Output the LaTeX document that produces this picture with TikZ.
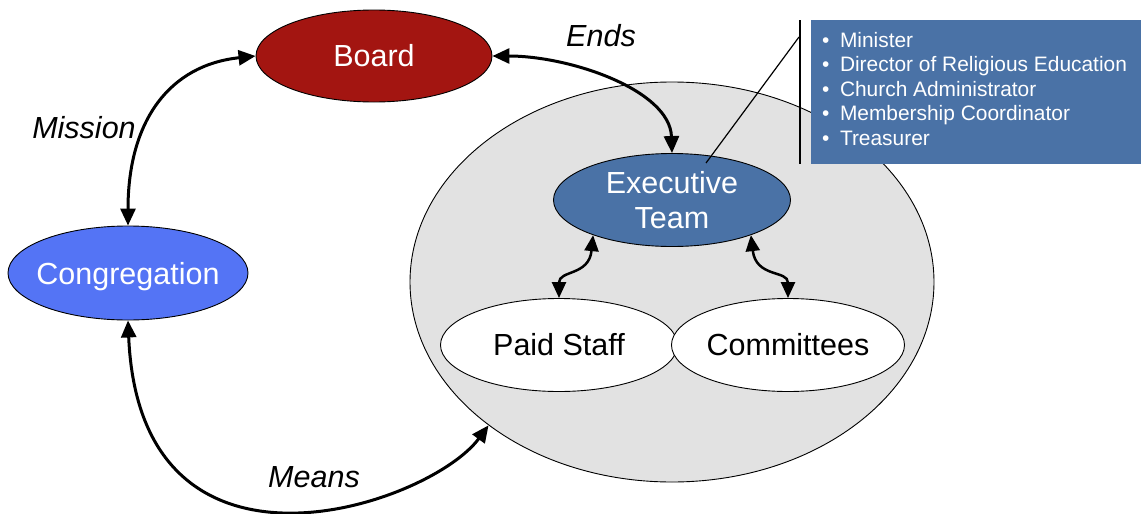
\documentclass[tikz,border=0pt]{standalone}
\usepackage{fontspec}
\setmainfont{Liberation Sans}
\usetikzlibrary{shapes.geometric,arrows.meta}
\definecolor{boardred}{RGB}{163,21,17}
\definecolor{congblue}{RGB}{84,116,245}
\definecolor{steel}{RGB}{74,114,166}
\definecolor{opsgray}{RGB}{226,226,226}
\begin{document}
\begin{tikzpicture}[x=1pt,y=-1pt,
  blob/.style={ellipse, draw=black, line width=0.9pt, inner sep=0pt,
    font=\fontsize{30.5}{35}\selectfont, align=center},
  lbl/.style={font=\itshape\fontsize{30.5}{36}\selectfont, inner sep=0pt},
  link/.style={line width=3pt, {Triangle[length=17pt,width=15pt]}-{Triangle[length=17pt,width=15pt]}},
  sublink/.style={line width=2.5pt, {Triangle[length=16pt,width=14pt]}-{Triangle[length=16pt,width=14pt]}},
  callline/.style={line width=1.2pt, draw=black}]
\useasboundingbox (0,0) rectangle (1141,514);

% operational area holding the staff and the committees
\node[blob, fill=opsgray, minimum width=524pt, minimum height=400pt] (ops) at (672,282) {};

% governance nodes
\node[blob, fill=boardred, text=white, minimum width=236pt, minimum height=92pt] (board) at (374,56) {Board};
\node[blob, fill=congblue, text=white, inner xsep=-14pt, text depth=0pt,
      minimum width=240pt, minimum height=94pt] (cong) at (128,273) {Congregation};
\node[blob, fill=steel, text=white, minimum width=237pt, minimum height=93pt] (exec) at (672,200) {Executive\\Team};
\node[blob, fill=white, minimum width=237pt, minimum height=93pt] (paid) at (559,345) {Paid Staff};
\node[blob, fill=white, minimum width=233pt, minimum height=93pt] (comm) at (788,345) {Committees};

% relationships
\draw[link] (cong.north) .. controls (128,120) and (170,65) .. (board.west);
\draw[link] (board.east) .. controls (570,56) and (670,90) .. (exec.north);
\draw[link] (cong.south) .. controls (140,605) and (430,505) .. (ops.218);
\draw[sublink] (paid.north) .. controls (559,270) and (589,276) .. (exec.204);
\draw[sublink] (comm.north) .. controls (788,270) and (756,278) .. (exec.336);

\node[lbl] (mission) at (84,128) {Mission};
\node[lbl] (ends) at (601,36) {Ends};
\node[lbl] (means) at (314,477) {Means};

% callout listing the executive team members
\node[fill=steel, draw=none, anchor=north west, minimum width=330pt, minimum height=144pt, inner sep=0pt] (rolesbox) at (811,20) {};
\node[anchor=north west, align=left, text=white, inner sep=0pt,
      font=\fontsize{20.9}{24.5}\selectfont] (roles) at (822,32)
  {\textbullet\hspace{10.5pt}Minister\\
   \textbullet\hspace{10.5pt}Director of Religious Education\\
   \textbullet\hspace{10.5pt}Church Administrator\\
   \textbullet\hspace{10.5pt}Membership Coordinator\\
   \textbullet\hspace{10.5pt}Treasurer};
\coordinate (execfoot) at (706,163);
\draw[callline] ([xshift=-11pt]rolesbox.north west) -- ([xshift=-11pt]rolesbox.south west);
\draw[callline] ([xshift=-12pt,yshift=-17pt]rolesbox.north west) -- (execfoot);
\end{tikzpicture}
\end{document}
